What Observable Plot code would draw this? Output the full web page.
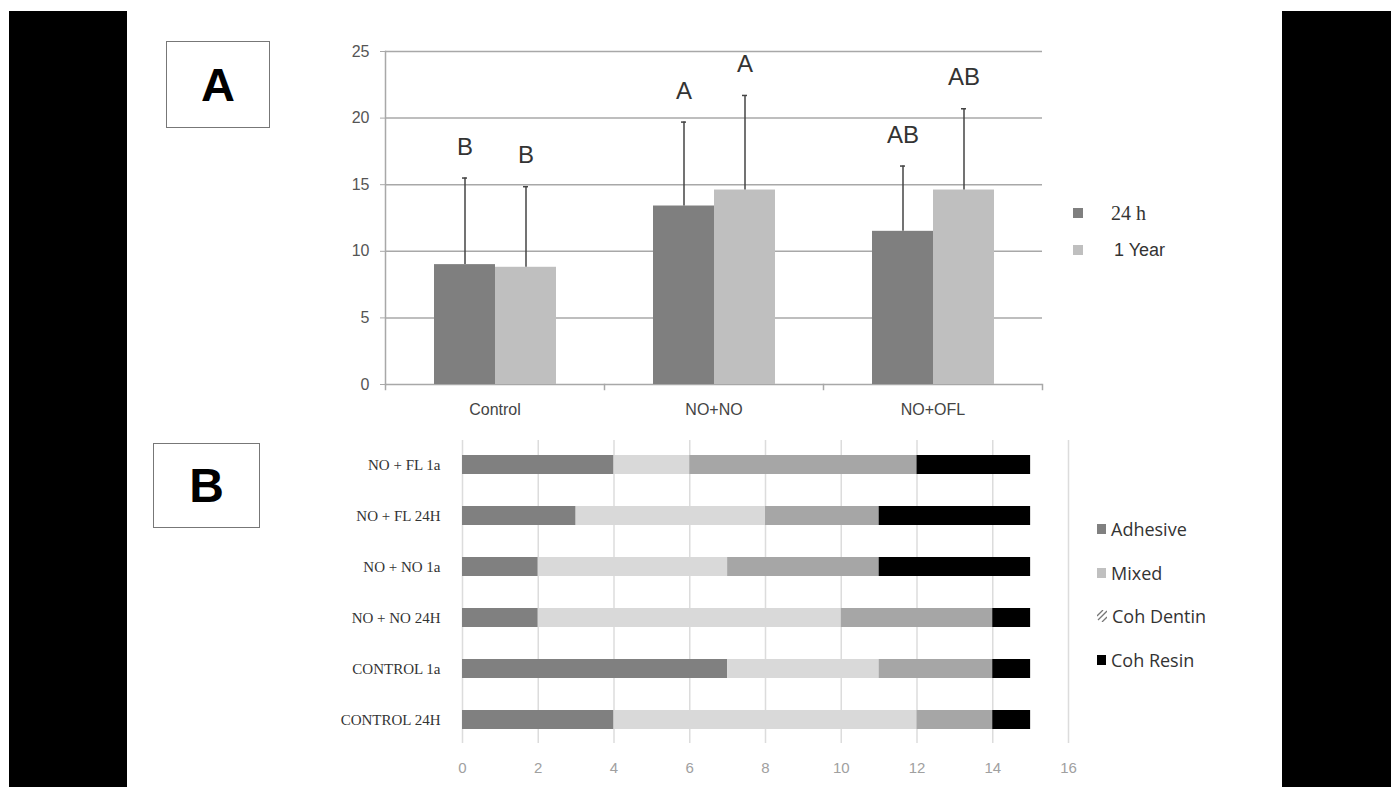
<!DOCTYPE html>
<html>
<head>
<meta charset="utf-8">
<script src="https://cdn.jsdelivr.net/npm/d3@7"></script>
<script src="https://cdn.jsdelivr.net/npm/@observablehq/plot@0.6"></script>
<style>
  html, body { margin: 0; padding: 0; background: #fff; }
  body { width: 1391px; height: 787px; position: relative; overflow: hidden; font-family: "Liberation Sans", Arial, sans-serif; }
  .blk { position: absolute; background: #000; }
  .box { position: absolute; border: 1.5px solid #777; box-sizing: border-box; display: flex; align-items: center; justify-content: center; font-family: "Liberation Sans", Arial, sans-serif; font-weight: bold; color: #000; }
  .abs { position: absolute; }
  .lg { position: absolute; display: flex; align-items: center; color: #333; white-space: nowrap; }
  .sw { display: inline-block; }
</style>
</head>
<body>
<div class="blk" style="left:9px; top:11px; width:118px; height:776px;"></div>
<div class="blk" style="left:1282px; top:11px; width:109px; height:776px;"></div>

<div class="box" style="left:166px; top:41px; width:104px; height:87px; font-size:47px;">A</div>
<div class="box" style="left:153px; top:443px; width:107px; height:85px; font-size:48px;">B</div>

<div id="chartA" class="abs" style="left:330px; top:30px;"></div>
<div id="chartB" class="abs" style="left:300px; top:430px;"></div>

<!-- legend A -->
<div class="lg" style="left:1073px; top:201px; height:24px;">
  <span class="sw" style="width:10px;height:10px;background:#7f7f7f;"></span>
  <span style="margin-left:28px; font-family:'Liberation Serif','Times New Roman',serif; font-size:20px;">24 h</span>
</div>
<div class="lg" style="left:1073px; top:238px; height:24px;">
  <span class="sw" style="width:10px;height:10px;background:#bfbfbf;"></span>
  <span style="margin-left:31px; font-family:'Liberation Sans',Arial,sans-serif; font-size:18px;">1 Year</span>
</div>

<!-- legend B -->
<div id="legendB"></div>

<script>
// ---------- Chart A data ----------
const groupsA = ["Control", "NO+NO", "NO+OFL"];
const seriesA = ["24 h", "1 Year"];
const mean24h = [9.0, 13.4, 11.5];
const mean1y = [8.8, 14.6, 14.6];
const sd24h = [6.5, 6.3, 4.9];
const sd1y = [6.05, 7.1, 6.1];
const letters24h = ["B", "A", "AB"];
const letters1y = ["B", "A", "AB"];
const yTicksA = [0, 5, 10, 15, 20, 25];
const colorsA = ["#7f7f7f", "#bfbfbf"];

// ---------- Chart B data ----------
const rowsB = ["NO + FL 1a", "NO + FL 24H", "NO + NO 1a", "NO + NO 24H", "CONTROL 1a", "CONTROL 24H"];
const failureTypes = ["Adhesive", "Mixed", "Coh Dentin", "Coh Resin"];
const adhesive = [4, 3, 2, 2, 7, 4];
const mixed = [2, 5, 5, 8, 4, 8];
const cohDentin = [6, 3, 4, 4, 3, 2];
const cohResin = [3, 4, 4, 1, 1, 1];
const xTicksB = [0, 2, 4, 6, 8, 10, 12, 14, 16];
const colorsB = ["#808080", "#d9d9d9", "#a6a6a6", "#000000"];

// ---------- build tables ----------
const dataA = [];
groupsA.forEach((g, i) => {
  dataA.push({group: g, series: seriesA[0], value: mean24h[i], sd: sd24h[i], letter: letters24h[i]});
  dataA.push({group: g, series: seriesA[1], value: mean1y[i], sd: sd1y[i], letter: letters1y[i]});
});

const dataB = [];
const valsB = [adhesive, mixed, cohDentin, cohResin];
rowsB.forEach((r, i) => {
  failureTypes.forEach((t, k) => dataB.push({row: r, type: t, value: valsB[k][i]}));
});

const gridA = "#a8a8a8";

const chartA = Plot.plot({
  width: 720,
  height: 400,
  marginLeft: 55,
  marginRight: 8,
  marginTop: 21,
  marginBottom: 46,
  style: {fontFamily: "'Liberation Sans', Arial, sans-serif", fontSize: "16px", color: "#4a4a4a", background: "transparent"},
  fx: {domain: groupsA, padding: 0, label: null},
  x: {domain: seriesA, paddingInner: 0, paddingOuter: 0.77, axis: null},
  y: {domain: [0, 25], label: null},
  color: {domain: seriesA, range: colorsA},
  marks: [
    Plot.ruleY(yTicksA, {stroke: gridA, strokeWidth: 1.5}),
    Plot.barY(dataA, {fx: "group", x: "series", y: "value", fill: "series"}),
    Plot.ruleX(dataA, {fx: "group", x: "series", y1: "value", y2: d => d.value + d.sd, stroke: "#444", strokeWidth: 1.5}),
    Plot.tickY(dataA, {fx: "group", x: "series", y: d => d.value + d.sd, stroke: "#444", strokeWidth: 1.5, insetLeft: 28, insetRight: 28}),
    Plot.text(dataA, {fx: "group", x: "series", y: d => d.value + d.sd, text: "letter", dy: -31, fontSize: 24, fill: "#333", fontFamily: "'Liberation Sans', Arial, sans-serif"}),
    Plot.frame({anchor: "left", facetAnchor: "left", stroke: gridA, strokeWidth: 1.5}),
    Plot.frame({anchor: "left", insetTop: 333, insetBottom: -5, stroke: gridA, strokeWidth: 1.5}),
    Plot.frame({anchor: "right", facetAnchor: "right", insetTop: 333, insetBottom: -5, stroke: gridA, strokeWidth: 1.5}),
    Plot.axisY({ticks: yTicksA, tickSize: 5, tickPadding: 11, stroke: gridA, fill: "#555", label: null}),
    Plot.axisFx({anchor: "bottom", tickSize: 0, tickPadding: 19, label: null, fill: "#444"})
  ]
});
document.getElementById("chartA").appendChild(chartA);

const chartB = Plot.plot({
  width: 800,
  height: 357,
  marginLeft: 162,
  marginRight: 32,
  marginTop: 10,
  marginBottom: 44,
  style: {fontFamily: "'Liberation Sans', Arial, sans-serif", fontSize: "15px", background: "transparent"},
  x: {domain: [0, 16], label: null},
  y: {domain: rowsB, paddingInner: 0.63, paddingOuter: 0.275, label: null},
  color: {domain: failureTypes, range: colorsB},
  marks: [
    Plot.ruleX(xTicksB, {stroke: "#dcdcdc", strokeWidth: 1.5}),
    Plot.barX(dataB, {y: "row", x: "value", fill: "type"}),
    Plot.axisX({ticks: xTicksB, tickSize: 0, tickPadding: 19, fill: "#a0a0a0", label: null}),
    Plot.axisY({tickSize: 0, tickPadding: 22, fill: "#333", fontFamily: "'Liberation Serif','Times New Roman',serif", fontSize: 15, label: null})
  ]
});
document.getElementById("chartB").appendChild(chartB);

// legend B built from failureTypes/colorsB
const lgB = document.getElementById("legendB");
const lgTops = [517, 561, 604, 648];
failureTypes.forEach((t, i) => {
  const d = document.createElement("div");
  d.className = "lg";
  d.style.left = "1097px";
  d.style.top = lgTops[i] + "px";
  d.style.height = "24px";
  d.style.fontFamily = "'Open Sans', 'Liberation Sans', sans-serif";
  d.style.fontSize = "18px";
  let sw;
  if (t === "Coh Dentin") {
    sw = '<svg width="10" height="12" style="display:inline-block"><line x1="0" y1="6" x2="6" y2="0" stroke="#777" stroke-width="1.3"/><line x1="1" y1="10" x2="10" y2="1" stroke="#777" stroke-width="1.3"/><line x1="5" y1="12" x2="10" y2="7" stroke="#777" stroke-width="1.3"/></svg>';
  } else {
    const c = t === "Mixed" ? "#c0c0c0" : colorsB[i];
    sw = `<span class="sw" style="width:9px;height:10px;background:${c};"></span>`;
  }
  d.innerHTML = sw + `<span style="margin-left:5px;">${t}</span>`;
  lgB.appendChild(d);
});
</script>
</body>
</html>
